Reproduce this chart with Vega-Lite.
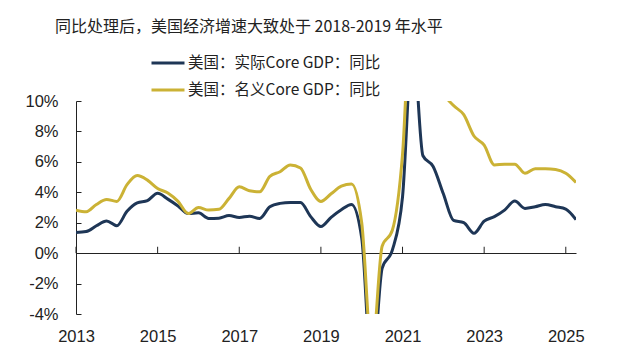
{
  "$schema": "https://vega.github.io/schema/vega-lite/v6.json",
  "width": 500,
  "height": 213,
  "autosize": {"type": "none"},
  "padding": {"left": 76, "top": 101, "right": 64, "bottom": 44},
  "background": "white",
  "title": {
    "text": "同比处理后，美国经济增速大致处于 2018-2019 年水平",
    "anchor": "start",
    "frame": "group",
    "dx": -21,
    "offset": 10,
    "font": "Noto Sans CJK SC",
    "fontSize": 16,
    "fontWeight": "normal",
    "color": "#222222"
  },
  "datasets": {
    "gdp": [
      {"t": 2013.0, "real": 1.36, "nominal": 2.83},
      {"t": 2013.25, "real": 1.42, "nominal": 2.72},
      {"t": 2013.5, "real": 1.8, "nominal": 3.2},
      {"t": 2013.75, "real": 2.12, "nominal": 3.53},
      {"t": 2014.0, "real": 1.8, "nominal": 3.4},
      {"t": 2014.25, "real": 2.75, "nominal": 4.5},
      {"t": 2014.5, "real": 3.3, "nominal": 5.1},
      {"t": 2014.75, "real": 3.45, "nominal": 4.8},
      {"t": 2015.0, "real": 3.93, "nominal": 4.25},
      {"t": 2015.25, "real": 3.55, "nominal": 3.95},
      {"t": 2015.5, "real": 3.1, "nominal": 3.4},
      {"t": 2015.75, "real": 2.6, "nominal": 2.6},
      {"t": 2016.0, "real": 2.65, "nominal": 3.0},
      {"t": 2016.25, "real": 2.28, "nominal": 2.83},
      {"t": 2016.5, "real": 2.3, "nominal": 2.88},
      {"t": 2016.75, "real": 2.47, "nominal": 3.6},
      {"t": 2017.0, "real": 2.35, "nominal": 4.36},
      {"t": 2017.25, "real": 2.43, "nominal": 4.1},
      {"t": 2017.5, "real": 2.28, "nominal": 4.03},
      {"t": 2017.75, "real": 3.05, "nominal": 5.05},
      {"t": 2018.0, "real": 3.27, "nominal": 5.35},
      {"t": 2018.25, "real": 3.33, "nominal": 5.8},
      {"t": 2018.5, "real": 3.33, "nominal": 5.6},
      {"t": 2018.75, "real": 2.4, "nominal": 4.2},
      {"t": 2019.0, "real": 1.75, "nominal": 3.4},
      {"t": 2019.25, "real": 2.35, "nominal": 3.9},
      {"t": 2019.5, "real": 2.85, "nominal": 4.4},
      {"t": 2019.75, "real": 3.2, "nominal": 4.55},
      {"t": 2020.0, "real": 1.0, "nominal": 2.0},
      {"t": 2020.25, "real": -8.0, "nominal": -6.5},
      {"t": 2020.5, "real": -1.0, "nominal": 0.45},
      {"t": 2020.75, "real": 0.2, "nominal": 1.5},
      {"t": 2021.0, "real": 3.7, "nominal": 6.5},
      {"t": 2021.25, "real": 14.0, "nominal": 18.0},
      {"t": 2021.5, "real": 6.4, "nominal": 13.0},
      {"t": 2021.75, "real": 5.7, "nominal": 13.0},
      {"t": 2022.0, "real": 3.9, "nominal": 10.6},
      {"t": 2022.25, "real": 2.15, "nominal": 9.7},
      {"t": 2022.5, "real": 2.0, "nominal": 9.1},
      {"t": 2022.75, "real": 1.3, "nominal": 7.7},
      {"t": 2023.0, "real": 2.1, "nominal": 7.1},
      {"t": 2023.25, "real": 2.4, "nominal": 5.8},
      {"t": 2023.5, "real": 2.83, "nominal": 5.85},
      {"t": 2023.75, "real": 3.42, "nominal": 5.85},
      {"t": 2024.0, "real": 2.94, "nominal": 5.25},
      {"t": 2024.25, "real": 3.05, "nominal": 5.55},
      {"t": 2024.5, "real": 3.2, "nominal": 5.55},
      {"t": 2024.75, "real": 3.05, "nominal": 5.5},
      {"t": 2025.0, "real": 2.9, "nominal": 5.25},
      {"t": 2025.25, "real": 2.2, "nominal": 4.65}
    ],
    "ticks": [
      {"t": 2013}, {"t": 2015}, {"t": 2017}, {"t": 2019}, {"t": 2021}, {"t": 2023}, {"t": 2025}
    ]
  },
  "layer": [
    {
      "data": {"name": "gdp"},
      "transform": [{"fold": ["real", "nominal"], "as": ["series", "value"]}],
      "mark": {"type": "line", "strokeWidth": 3, "clip": true, "interpolate": "monotone", "strokeJoin": "round"},
      "encoding": {
        "x": {
          "field": "t",
          "type": "quantitative",
          "scale": {"domain": [2013, 2025.25], "nice": false, "zero": false},
          "axis": {
            "values": [2013, 2015, 2017, 2019, 2021, 2023, 2025],
            "format": "d",
            "title": null,
            "domain": false,
            "ticks": false,
            "grid": false,
            "labelFlush": false,
            "labelOverlap": false,
            "labelPadding": 14,
            "labelFont": "Liberation Sans",
            "labelFontSize": 16.5,
            "labelColor": "#222222"
          }
        },
        "y": {
          "field": "value",
          "type": "quantitative",
          "scale": {"domain": [-4, 10], "nice": false, "zero": false},
          "axis": {
            "values": [-4, -2, 0, 2, 4, 6, 8, 10],
            "labelExpr": "datum.value + '%'",
            "title": null,
            "grid": true,
            "gridColor": "#222222",
            "gridWidth": 1,
            "gridOpacity": {"condition": {"test": "datum.value === 0", "value": 1}, "value": 0},
            "domain": true,
            "domainColor": "#222222",
            "ticks": true,
            "tickSize": -5,
            "tickColor": "#222222",
            "labelOverlap": false,
            "labelFlush": false,
            "labelPadding": 23,
            "labelFont": "Liberation Sans",
            "labelFontSize": 16.5,
            "labelColor": "#222222"
          }
        },
        "color": {
          "field": "series",
          "type": "nominal",
          "scale": {"domain": ["real", "nominal"], "range": ["#1E3656", "#CBB235"]},
          "legend": {
            "title": null,
            "orient": "none",
            "legendX": 74,
            "legendY": -56,
            "direction": "vertical",
            "symbolType": "stroke",
            "symbolSize": 1089,
            "symbolStrokeWidth": 3,
            "rowPadding": -9,
            "labelOffset": 2,
            "labelFont": "Noto Sans CJK SC",
            "labelFontSize": 15.5,
            "labelColor": "#222222",
            "labelLimit": 400,
            "padding": 0,
            "labelExpr": "datum.value == 'real' ? '美国：实际Core GDP：同比' : '美国：名义Core GDP：同比'"
          }
        }
      }
    },
    {
      "data": {"name": "ticks"},
      "mark": {"type": "rule", "color": "#222222", "strokeWidth": 1},
      "encoding": {
        "x": {
          "field": "t",
          "type": "quantitative",
          "axis": {
            "values": [2013, 2015, 2017, 2019, 2021, 2023, 2025],
            "format": "d",
            "title": null,
            "domain": false,
            "ticks": false,
            "grid": false,
            "labelFlush": false,
            "labelOverlap": false,
            "labelPadding": 14,
            "labelFont": "Liberation Sans",
            "labelFontSize": 16.5,
            "labelColor": "#222222"
          }
        },
        "y": {
          "datum": 0,
          "type": "quantitative",
          "axis": {
            "values": [-4, -2, 0, 2, 4, 6, 8, 10],
            "labelExpr": "datum.value + '%'",
            "title": null,
            "grid": true,
            "gridColor": "#222222",
            "gridWidth": 1,
            "gridOpacity": {"condition": {"test": "datum.value === 0", "value": 1}, "value": 0},
            "domain": true,
            "domainColor": "#222222",
            "ticks": true,
            "tickSize": -5,
            "tickColor": "#222222",
            "labelOverlap": false,
            "labelFlush": false,
            "labelPadding": 23,
            "labelFont": "Liberation Sans",
            "labelFontSize": 16.5,
            "labelColor": "#222222"
          }
        },
        "y2": {"datum": 0.42}
      }
    }
  ],
  "config": {
    "view": {"stroke": null}
  }
}
